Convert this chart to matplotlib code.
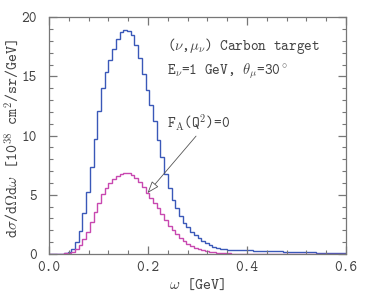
import numpy as np
import matplotlib
matplotlib.use("Agg")
import matplotlib.pyplot as plt
from matplotlib.ticker import MultipleLocator

plt.rcParams['font.family'] = ['cmtt10', 'DejaVu Sans']
plt.rcParams['mathtext.fontset'] = 'cm'
plt.rcParams['axes.unicode_minus'] = False

# bin edges in omega [GeV]
omega_edges = np.linspace(0.0, 0.6, 81)

# full cross section (blue)
sigma_full = [
    0.0, 0.0, 0.0, 0.01, 0.05, 0.2, 0.45, 1.04, 1.97, 3.44,
    5.2, 7.35, 9.7, 12.1, 14.0, 15.4, 16.4, 17.3, 18.15, 18.75,
    18.95, 18.85, 18.5, 17.7, 16.6, 15.2, 13.85, 12.6, 11.2, 9.6,
    8.2, 6.8, 5.55, 4.6, 3.85, 3.2, 2.6, 2.25, 1.9, 1.6,
    1.33, 1.1, 0.9, 0.76, 0.62, 0.52, 0.45, 0.4, 0.37, 0.36,
    0.35, 0.34, 0.33, 0.31, 0.3, 0.29, 0.28, 0.27, 0.26, 0.25,
    0.24, 0.23, 0.22, 0.21, 0.2, 0.19, 0.18, 0.17, 0.16, 0.15,
    0.14, 0.13, 0.12, 0.11, 0.1, 0.1, 0.09, 0.08, 0.07, 0.06,
]

# F_A(Q^2)=0 (magenta)
sigma_fa0 = [
    0.0, 0.0, 0.01, 0.03, 0.07, 0.12, 0.2, 0.4, 0.76, 1.24,
    1.9, 2.73, 3.58, 4.34, 5.1, 5.55, 5.97, 6.3, 6.6, 6.8,
    6.88, 6.85, 6.7, 6.45, 6.1, 5.65, 5.15, 4.75, 4.3, 3.85,
    3.35, 2.85, 2.4, 2.0, 1.65, 1.35, 1.1, 0.88, 0.68, 0.54,
    0.43, 0.34, 0.27, 0.21, 0.16, 0.12, 0.09, 0.07, 0.05, 0.04,
    0.03, 0.025, 0.02, 0.02, 0.015, 0.015, 0.01, 0.01, 0.01, 0.01,
    0.01, 0.01, 0.01, 0.01, 0.005, 0.005, 0.005, 0.005, 0.005, 0.005,
    0.005, 0.005, 0.0, 0.0, 0.0, 0.0, 0.0, 0.0, 0.0, 0.0,
]

x_ticks = [0.0, 0.2, 0.4, 0.6]
x_ticklabels = ['0.0', '0.2', '0.4', '0.6']
y_ticks = [0, 5, 10, 15, 20]
y_ticklabels = ['0', '5', '10', '15', '20']

fig = plt.figure(figsize=(3.69, 2.96), dpi=100)
ax = fig.add_axes([49/369, 42/296, 297/369, 236.7/296])

blue = '#3a58b8'
mag = '#c848b0'
ax.stairs(sigma_full, omega_edges, color=blue, lw=1.0)
ax.stairs(sigma_fa0, omega_edges, color=mag, lw=1.0)

ax.set_xlim(0, 0.6)
ax.set_ylim(0, 20)
ax.set_xticks(x_ticks)
ax.set_xticklabels(x_ticklabels)
ax.set_yticks(y_ticks)
ax.set_yticklabels(y_ticklabels)
ax.xaxis.set_minor_locator(MultipleLocator(0.04))
ax.yaxis.set_minor_locator(MultipleLocator(1))

for s in ax.spines.values():
    s.set_color('#777777')
    s.set_linewidth(0.9)
ax.tick_params(which='both', direction='in', top=True, right=True,
               colors='#777777', labelcolor='#444444', labelsize=10.5)
ax.tick_params(which='major', length=6, width=0.9)
ax.tick_params(which='minor', length=3, width=0.8)
ax.tick_params(axis='x', pad=5)
ax.tick_params(axis='y', pad=9)

ax.set_xlabel(r'$\omega$ [GeV]', fontsize=11, color='#444444', labelpad=2)
ax.set_ylabel(r'd$\sigma$/d$\Omega$d$\omega$ [10$^{38}$ cm$^2$/sr/GeV]',
              fontsize=11, color='#444444')
ax.yaxis.set_label_coords(-0.093, 0.49)

tc = '#444444'
ax.text(0.238, 17.2, r'($\nu$,$\mu_\nu$) Carbon target', fontsize=10.5,
        color=tc, ha='left')
ax.text(0.238, 15.15, r'E$_\nu$=1 GeV, $\theta_\mu$=30$^\circ$', fontsize=10.5,
        color=tc, ha='left')
ax.annotate(r'F$_{\rm A}$(Q$^2$)=0', xy=(0.199, 5.15), xytext=(0.238, 10.6),
            fontsize=10.5, color=tc, ha='left',
            arrowprops=dict(arrowstyle='-|>,head_length=0.7,head_width=0.25',
                            facecolor='white', edgecolor='#555555', lw=0.6,
                            shrinkA=0, shrinkB=0,
                            relpos=(0.5, 0.0)))

fig.savefig('out.png', dpi=100)
